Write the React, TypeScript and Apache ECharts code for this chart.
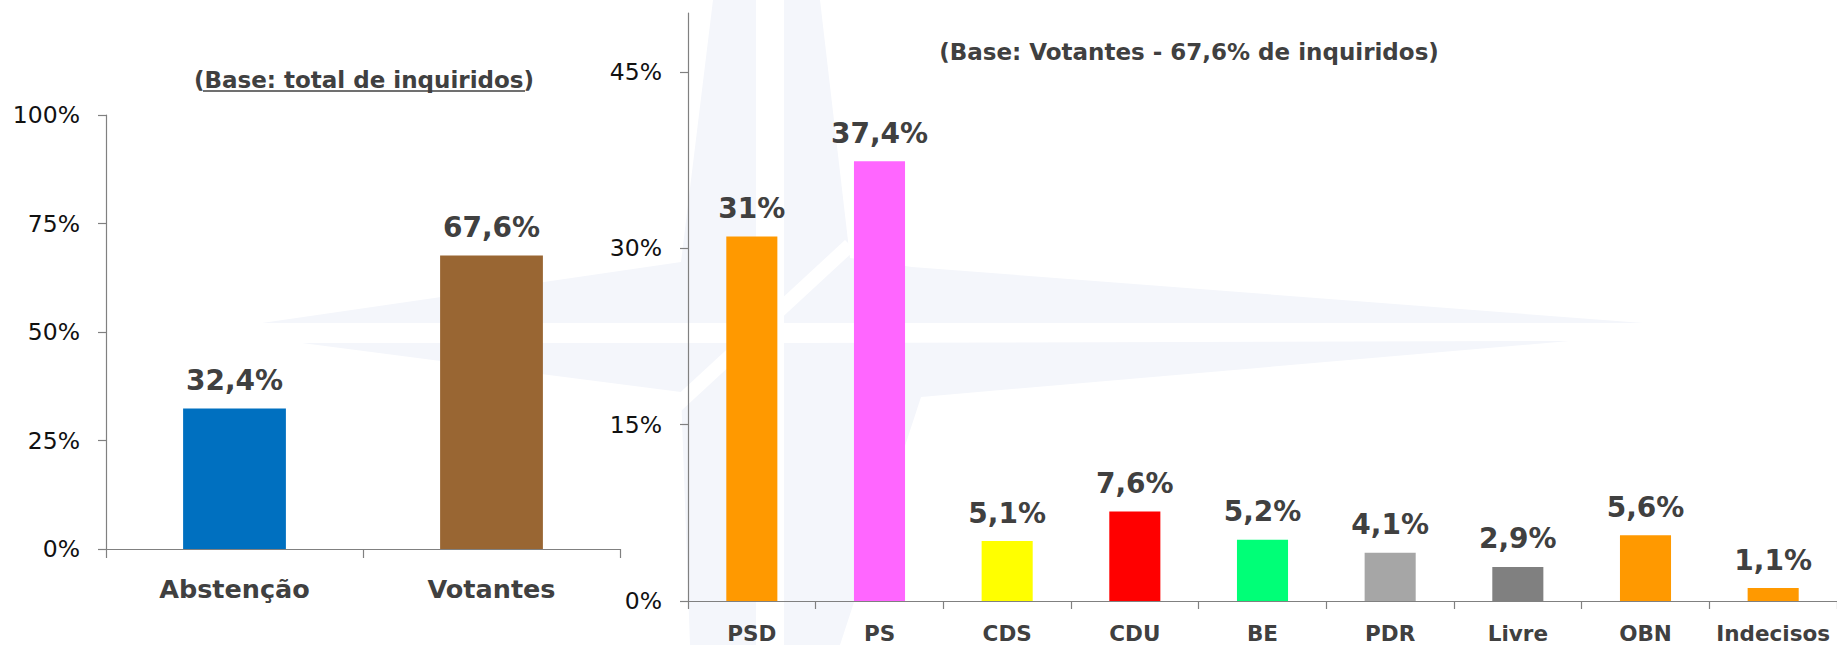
import React, { useEffect, useRef } from 'react';
import * as echarts from 'echarts';

const leftCategories = ['Abstenção', 'Votantes'];
const leftValues = [32.4, 67.6];
const leftColors = ['#0070C0', '#996633'];
const leftTicks = [0, 25, 50, 75, 100];

const rightCategories = ['PSD', 'PS', 'CDS', 'CDU', 'BE', 'PDR', 'Livre', 'OBN', 'Indecisos'];
const rightValues = [31, 37.4, 5.1, 7.6, 5.2, 4.1, 2.9, 5.6, 1.1];
const rightColors = ['#FF9900', '#FF66FF', '#FFFF00', '#FF0000', '#00FF77', '#A6A6A6', '#808080', '#FF9900', '#FF9900'];
const rightTicks = [0, 15, 30, 45];

const leftTitle = '(Base: total de inquiridos)';
const rightTitle = '(Base: Votantes - 67,6% de inquiridos)';

const FONT = "'DejaVu Sans', Verdana, sans-serif";
const AXIS = '#808080';
const LABEL = '#404040';
const WM = '#F4F6FB';

export default function App() {
  const ref = useRef<HTMLDivElement>(null);
  useEffect(() => {
    const chart = echarts.init(ref.current!, null, { renderer: 'svg' });
    const fmt = (v: number) => String(v).replace('.', ',') + '%';
    const axisLine = { show: true, lineStyle: { color: AXIS, width: 1.2 } };
    const valueLabel = {
      show: true,
      position: 'top',
      distance: 14,
      formatter: (p: any) => fmt(p.value),
      fontSize: 28,
      fontWeight: 'bold',
      color: LABEL,
      fontFamily: FONT,
    };
    const poly = (points: number[][], fill: string) => ({
      type: 'polygon',
      z: -10,
      silent: true,
      shape: { points },
      style: { fill },
    });
    const option: any = {
      animation: false,
      backgroundColor: '#ffffff',
      graphic: [
        poly([[713, 0], [756, 0], [756, 323], [262, 323], [681, 262]], WM),
        poly([[784, 0], [820, 0], [850, 258], [912, 267], [1643, 323], [784, 323]], WM),
        poly([[756, 343], [302, 343], [681, 392], [690, 645], [756, 645]], WM),
        poly([[784, 343], [1569, 341], [921, 397], [840, 645], [784, 645]], WM),
        poly([[645, 425], [655, 435], [855, 250], [845, 240]], '#ffffff'),
        {
          type: 'text',
          z: 10,
          x: 364,
          y: 80,
          style: { text: leftTitle, align: 'center', verticalAlign: 'middle', fontSize: 23, fontWeight: 'bold', fill: LABEL, fontFamily: FONT },
        },
        {
          type: 'line',
          z: 10,
          shape: { x1: 203, y1: 91, x2: 525, y2: 91 },
          style: { stroke: LABEL, lineWidth: 1.5 },
        },
        {
          type: 'text',
          z: 10,
          x: 1189,
          y: 52,
          style: { text: rightTitle, align: 'center', verticalAlign: 'middle', fontSize: 23, fontWeight: 'bold', fill: LABEL, fontFamily: FONT },
        },
      ],
      grid: [
        { left: 106, top: 115, width: 514, height: 434 },
        { left: 688, top: 13, width: 1152, height: 588 },
      ],
      xAxis: [
        {
          type: 'category',
          gridIndex: 0,
          data: leftCategories,
          axisLine,
          axisTick: { show: true, length: 9, alignWithLabel: false, lineStyle: { color: AXIS, width: 1.2 } },
          axisLabel: { interval: 0, margin: 27, fontSize: 25.5, fontWeight: 'bold', color: LABEL, fontFamily: FONT },
        },
        {
          type: 'category',
          gridIndex: 1,
          data: rightCategories,
          axisLine,
          axisTick: { show: true, length: 8, alignWithLabel: false, lineStyle: { color: AXIS, width: 1.2 } },
          axisLabel: { interval: 0, margin: 21, fontSize: 21.5, fontWeight: 'bold', color: LABEL, fontFamily: FONT },
        },
      ],
      yAxis: [
        {
          type: 'value',
          gridIndex: 0,
          min: 0,
          max: 100,
          interval: 25,
          axisLine,
          axisTick: { show: true, length: 8, lineStyle: { color: AXIS, width: 1.2 }, customValues: leftTicks },
          splitLine: { show: false },
          axisLabel: { customValues: leftTicks, formatter: '{value}%', margin: 26, fontSize: 23.5, color: '#111111', fontFamily: FONT },
        },
        {
          type: 'value',
          gridIndex: 1,
          min: 0,
          max: 50,
          interval: 15,
          axisLine,
          axisTick: { show: true, length: 8, lineStyle: { color: AXIS, width: 1.2 }, customValues: rightTicks },
          splitLine: { show: false },
          axisLabel: { customValues: rightTicks, formatter: '{value}%', margin: 26, fontSize: 23.5, color: '#111111', fontFamily: FONT },
        },
      ],
      series: [
        {
          type: 'bar',
          xAxisIndex: 0,
          yAxisIndex: 0,
          barWidth: '40%',
          data: leftValues.map((v, i) => ({ value: v, itemStyle: { color: leftColors[i] } })),
          label: valueLabel,
        },
        {
          type: 'bar',
          xAxisIndex: 1,
          yAxisIndex: 1,
          barWidth: '40%',
          data: rightValues.map((v, i) => ({ value: v, itemStyle: { color: rightColors[i] } })),
          label: valueLabel,
        },
      ],
    };
    chart.setOption(option);
    return () => chart.dispose();
  }, []);
  return (
    <div
      ref={ref}
      style={{ position: 'absolute', left: 0, top: 0, width: 1837, height: 645, background: '#fff' }}
    />
  );
}
